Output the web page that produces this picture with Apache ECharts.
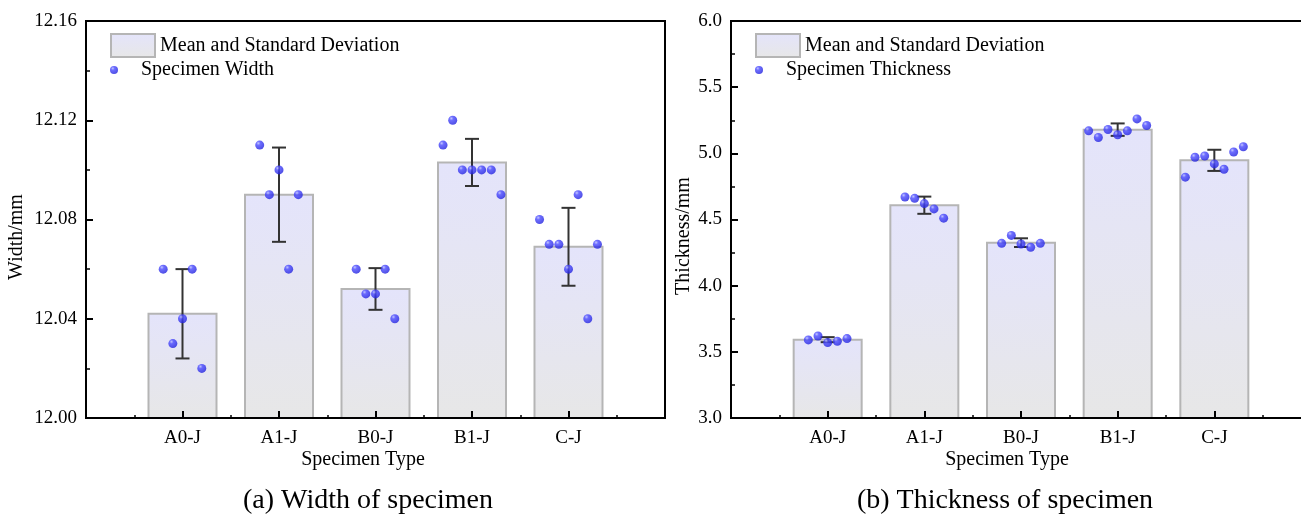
<!DOCTYPE html>
<html>
<head>
<meta charset="utf-8">
<script src="https://cdn.jsdelivr.net/npm/echarts@6/dist/echarts.min.js"></script>
<style>
  html, body { margin: 0; padding: 0; background: #fff; }
  #main { width: 1301px; height: 520px; }
</style>
</head>
<body>
<div id="main"></div>
<script>
const categories = ['A0-J', 'A1-J', 'B0-J', 'B1-J', 'C-J'];

// (a) width of specimen, mm
const widthMean = [12.042, 12.090, 12.052, 12.103, 12.069];
const widthSD = [0.018, 0.019, 0.0084, 0.0095, 0.0157];
const widthPoints = [
  [12.06, 12.06, 12.04, 12.03, 12.02],
  [12.11, 12.10, 12.09, 12.09, 12.06],
  [12.06, 12.06, 12.05, 12.05, 12.04],
  [12.12, 12.11, 12.10, 12.10, 12.10, 12.10, 12.09],
  [12.09, 12.08, 12.07, 12.07, 12.07, 12.06, 12.04]
];
const widthJitter = [
  [-0.2, 0.1, 0, -0.1, 0.2],
  [-0.2, 0, -0.1, 0.2, 0.1],
  [-0.2, 0.1, -0.1, 0, 0.2],
  [-0.2, -0.3, -0.1, 0, 0.1, 0.2, 0.3],
  [0.1, -0.3, -0.2, -0.1, 0.3, 0, 0.2]
];

// (b) thickness of specimen, mm
const thickMean = [3.592, 4.608, 4.325, 5.179, 4.947];
const thickSD = [0.019, 0.065, 0.033, 0.047, 0.080];
const thickPoints = [
  [3.59, 3.62, 3.57, 3.58, 3.60],
  [4.67, 4.66, 4.62, 4.58, 4.51],
  [4.32, 4.38, 4.315, 4.29, 4.32],
  [5.17, 5.12, 5.18, 5.14, 5.17, 5.26, 5.21],
  [4.82, 4.97, 4.98, 4.92, 4.88, 5.01, 5.05]
];
const thickJitter = [
  [-0.2, -0.1, 0, 0.1, 0.2],
  [-0.2, -0.1, 0, 0.1, 0.2],
  [-0.2, -0.1, 0, 0.1, 0.2],
  [-0.3, -0.2, -0.1, 0, 0.1, 0.2, 0.3],
  [-0.3, -0.2, -0.1, 0, 0.1, 0.2, 0.3]
];

const widthTicks = { min: 12.00, max: 12.16, interval: 0.04, digits: 2 };
const thickTicks = { min: 3.0, max: 6.0, interval: 0.5, digits: 1 };

const FONT = "'Liberation Serif', 'Times New Roman', serif";

const barFill = {
  type: 'linear', x: 0, y: 0, x2: 0, y2: 1,
  colorStops: [{ offset: 0, color: '#e4e4fb' }, { offset: 1, color: '#e7e7e7' }]
};
const dotFill = {
  type: 'radial', x: 0.35, y: 0.3, r: 0.75,
  colorStops: [
    { offset: 0, color: '#b4b8ff' },
    { offset: 0.3, color: '#4a4aff' },
    { offset: 1, color: '#2020dc' }
  ]
};

// bar from the bottom of the grid up to the mean
function barItem(params, api) {
  const x = api.value(0);
  const top = api.coord([x, api.value(1)]);
  const bottomY = params.coordSys.y + params.coordSys.height;
  const w = 68;
  return {
    type: 'rect',
    shape: { x: top[0] - w / 2, y: top[1], width: w, height: bottomY - top[1] },
    style: api.style()
  };
}

function errorItem(params, api) {
  const x = api.value(0);
  const lo = api.coord([x, api.value(1)]);
  const hi = api.coord([x, api.value(2)]);
  const w = 7;
  const st = { stroke: '#333', lineWidth: 2 };
  return {
    type: 'group',
    children: [
      { type: 'line', shape: { x1: hi[0], y1: hi[1], x2: lo[0], y2: lo[1] }, style: st },
      { type: 'line', shape: { x1: hi[0] - w, y1: hi[1], x2: hi[0] + w, y2: hi[1] }, style: st },
      { type: 'line', shape: { x1: lo[0] - w, y1: lo[1], x2: lo[0] + w, y2: lo[1] }, style: st }
    ]
  };
}

function makeSeries(idx, mean, sd, points, jitter, dotName) {
  return [
    {
      name: 'Mean and Standard Deviation', type: 'custom',
      xAxisIndex: idx, yAxisIndex: idx, z: 2,
      renderItem: barItem, encode: { x: 0, y: 1 },
      itemStyle: { color: barFill, borderColor: '#b5b5b5', borderWidth: 2 },
      data: mean.map((m, k) => [k + 1, m])
    },
    {
      name: '_err' + idx, type: 'custom', xAxisIndex: idx, yAxisIndex: idx,
      renderItem: errorItem, encode: { x: 0, y: [1, 2] }, z: 3,
      data: mean.map((m, k) => [k + 1, m - sd[k], m + sd[k]])
    },
    {
      name: dotName, type: 'scatter', xAxisIndex: idx, yAxisIndex: idx,
      symbolSize: 9, z: 4,
      itemStyle: { color: dotFill },
      data: points.flatMap((arr, k) => arr.map((v, j) => [k + 1 + jitter[k][j], v]))
    }
  ];
}

function xAxisCfg(idx) {
  return {
    type: 'value', gridIndex: idx, min: 0, max: 6, interval: 1, z: 10,
    axisLine: { lineStyle: { color: '#000', width: 2 } },
    axisTick: { inside: true, length: 7, lineStyle: { color: '#000', width: 2 } },
    minorTick: { show: true, splitNumber: 2, length: 3, lineStyle: { color: '#000', width: 1.5 } },
    splitLine: { show: false },
    axisLabel: {
      color: '#000', fontFamily: FONT, fontSize: 19, margin: 11,
      formatter: v => categories[v - 1] || ''
    }
  };
}

function yAxisCfg(idx, t) {
  return {
    type: 'value', gridIndex: idx, min: t.min, max: t.max, interval: t.interval, z: 10,
    axisLine: { show: true, lineStyle: { color: '#000', width: 2 } },
    axisTick: { show: true, inside: true, length: 7, lineStyle: { color: '#000', width: 2 } },
    minorTick: { show: true, splitNumber: 2, length: 4, lineStyle: { color: '#000', width: 1.5 } },
    splitLine: { show: false },
    axisLabel: {
      color: '#000', fontFamily: FONT, fontSize: 19, margin: 9,
      formatter: v => v.toFixed(t.digits)
    }
  };
}

const legendText = { color: '#000', fontFamily: FONT, fontSize: 20 };

function legendPair(left, dotName) {
  return [
    {
      left: left, top: 33, padding: 0, itemWidth: 44, itemHeight: 23,
      selectedMode: false, textStyle: legendText,
      data: [{ name: 'Mean and Standard Deviation', icon: 'rect' }]
    },
    {
      left: left, top: 60, padding: 0, itemWidth: 44, itemHeight: 8,
      selectedMode: false, textStyle: legendText,
      data: [{ name: dotName, icon: 'circle' }]
    }
  ];
}

function label(text, x, y, size, rotate) {
  return {
    type: 'text', x: x, y: y, rotation: rotate ? Math.PI / 2 : 0,
    style: {
      text: text, fill: '#000', font: size + 'px ' + FONT,
      textAlign: 'center', textVerticalAlign: 'middle'
    }
  };
}

const gridBase = {
  top: 21, height: 397, show: true, borderColor: '#000', borderWidth: 2,
  backgroundColor: 'rgba(0,0,0,0)', containLabel: false, outerBoundsMode: 'none'
};

const chart = echarts.init(document.getElementById('main'));
chart.setOption({
  animation: false,
  backgroundColor: '#fff',
  grid: [
    Object.assign({ left: 86, width: 579 }, gridBase),
    Object.assign({ left: 731, width: 580 }, gridBase)
  ],
  xAxis: [xAxisCfg(0), xAxisCfg(1)],
  yAxis: [yAxisCfg(0, widthTicks), yAxisCfg(1, thickTicks)],
  legend: legendPair(110, 'Specimen Width').concat(legendPair(755, 'Specimen Thickness')),
  series: makeSeries(0, widthMean, widthSD, widthPoints, widthJitter, 'Specimen Width')
    .concat(makeSeries(1, thickMean, thickSD, thickPoints, thickJitter, 'Specimen Thickness')),
  graphic: [
    label('Width/mm', 17, 237, 20, true),
    label('Thickness/mm', 684, 236, 20, true),
    label('Specimen Type', 363, 460, 20),
    label('Specimen Type', 1007, 460, 20),
    label('(a) Width of specimen', 368, 501, 28),
    label('(b) Thickness of specimen', 1005, 501, 28)
  ]
});
</script>
</body>
</html>
